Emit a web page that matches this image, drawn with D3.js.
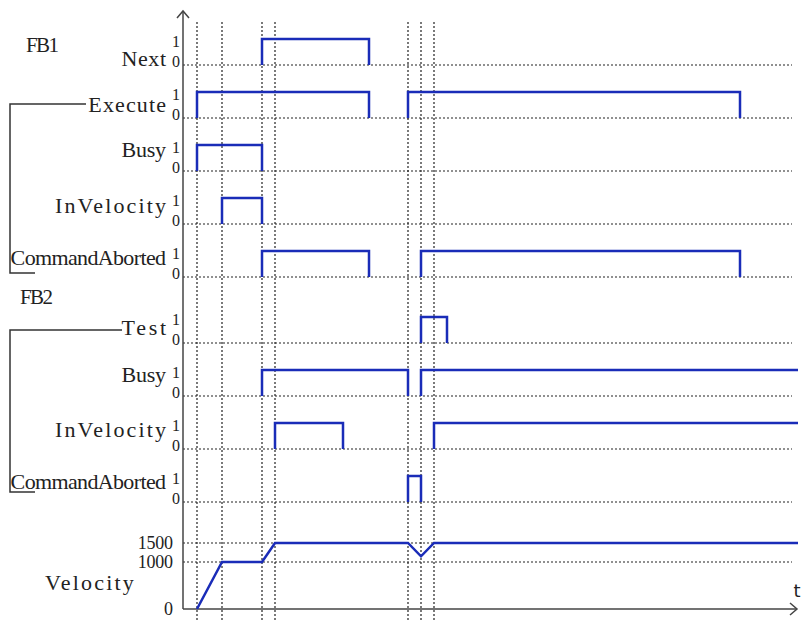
<!DOCTYPE html>
<html>
<head>
<meta charset="utf-8">
<script src="https://cdn.jsdelivr.net/npm/d3@7"></script>
<style>
  body { margin: 0; background: #fff; }
  svg { display: block; }
</style>
</head>
<body>
<div id="chart"></div>
<script>
// time unit = 1 px after the y axis
const markerTimes = [14, 39, 79, 92, 225, 238, 251];

const rowNames = ['Next', 'Execute', 'Busy', 'InVelocity', 'CommandAborted',
                  'Test', 'Busy', 'InVelocity', 'CommandAborted'];
// high intervals [rise, fall] per row
const rowPulses = [
  [[79, 186]],
  [[14, 186], [225, 557]],
  [[14, 79]],
  [[39, 79]],
  [[79, 186], [238, 557]],
  [[238, 264]],
  [[79, 225], [238, 615]],
  [[92, 160], [251, 615]],
  [[225, 238]]
];
const groupNames = ['FB1', 'FB2'];

const velTimes = [14, 39, 79, 92, 225, 238, 251, 615];
const velValues = [0, 1000, 1000, 1500, 1500, 1150, 1500, 1500];
const velTicks = [0, 1000, 1500];

const w = 803, h = 621;
const blue = '#1a2cb8';
const serif = '"Liberation Serif", "DejaVu Serif", serif';
// name label baseline offset from each row's 0 line
const nameShift = [1, -6, -14, -11, -12, -8, -14, -12, -13];

const svg = d3.select('#chart').append('svg')
  .attr('width', w).attr('height', h);

const x = d3.scaleLinear().domain([0, 614]).range([183, 797]);
// baseline (level 0) of each digital row
const rowY = i => 65 + i * 53 + (i >= 5 ? 13 : 0);
const lvl = d3.scaleLinear().domain([0, 1]).range([0, -26]);
const vy = d3.scaleLinear().domain([0, 1000, 1500]).range([609, 562, 543]);

// vertical dotted markers
svg.append('g').selectAll('line')
  .data(markerTimes).enter().append('line')
  .attr('x1', d => x(d)).attr('x2', d => x(d))
  .attr('y1', 22).attr('y2', h)
  .attr('stroke', '#222').attr('stroke-width', 1.2)
  .attr('stroke-dasharray', '2,2');

// horizontal dotted baselines
const hLines = rowNames.map((d, i) => rowY(i)).concat([vy(1000), vy(1500)]);
svg.append('g').selectAll('line')
  .data(hLines).enter().append('line')
  .attr('x1', x(0)).attr('x2', 792)
  .attr('y1', d => d).attr('y2', d => d)
  .attr('stroke', '#222').attr('stroke-width', 1.2)
  .attr('stroke-dasharray', '2,2');

// axes
const axisCol = '#444';
svg.append('line').attr('x1', x(0)).attr('x2', x(0)).attr('y1', vy(0)).attr('y2', 11)
  .attr('stroke', axisCol).attr('stroke-width', 1.5);
svg.append('path').attr('d', `M${x(0) - 6},${18} L${x(0)},${11} L${x(0) + 6},${18}`)
  .attr('fill', 'none').attr('stroke', axisCol).attr('stroke-width', 1.5);
svg.append('line').attr('x1', x(0)).attr('x2', 797).attr('y1', vy(0)).attr('y2', vy(0))
  .attr('stroke', axisCol).attr('stroke-width', 1.5);
svg.append('path').attr('d', `M790,${vy(0) - 6} L797,${vy(0)} L790,${vy(0) + 6}`)
  .attr('fill', 'none').attr('stroke', axisCol).attr('stroke-width', 1.5);
svg.append('text').attr('x', 797).attr('y', 597).attr('text-anchor', 'middle')
  .attr('font-family', '"DejaVu Sans", sans-serif').attr('font-size', 18)
  .attr('fill', '#222').text('t');

// digital signals
const line = d3.line().x(d => x(d[0])).y(d => d[1]);
rowPulses.forEach((pulses, i) => {
  const b = rowY(i);
  pulses.forEach(p => {
    const pts = [[p[0], b], [p[0], b + lvl(1)], [p[1], b + lvl(1)]];
    if (p[1] < 600) pts.push([p[1], b]);
    svg.append('path').attr('d', line(pts))
      .attr('fill', 'none').attr('stroke', blue).attr('stroke-width', 2.5);
  });
});

// velocity trace
svg.append('path')
  .attr('d', d3.line().x(d => x(d[0])).y(d => vy(d[1]))(velTimes.map((t, i) => [t, velValues[i]])))
  .attr('fill', 'none').attr('stroke', blue).attr('stroke-width', 2.5);

// labels
const txt = (tx, ty, s, size, anchor, len) => {
  const t = svg.append('text').attr('x', tx).attr('y', ty)
    .attr('font-family', serif).attr('font-size', size)
    .attr('fill', '#222').attr('text-anchor', anchor || 'start').text(s);
  if (len) t.attr('textLength', len).attr('lengthAdjust', 'spacing');
  return t;
};

rowNames.forEach((name, i) => {
  const b = rowY(i);
  txt(166, b + nameShift[i], name, 22, 'end', name.length * 11.1);
  txt(176, b - 18, '1', 16, 'middle');
  txt(176, b + 2, '0', 16, 'middle');
});

txt(26, 52, groupNames[0], 21, 'start', 33);
txt(20, 304, groupNames[1], 21, 'start', 33);
txt(45, 590, 'Velocity', 22, 'start', 8 * 11.1);

velTicks.forEach(v => {
  txt(173, vy(v) + 6, String(v), 18, 'end', String(v).length * 8.8);
});

// group brackets
const bracket = d3.line();
const br = (yTop, xTop, yBot) => svg.append('path')
  .attr('d', bracket([[xTop, yTop], [10, yTop], [10, yBot], [35, yBot]]))
  .attr('fill', 'none').attr('stroke', '#333').attr('stroke-width', 1.5);
br(rowY(1) - 14, 86, rowY(4) - 4);
br(rowY(5) - 13, 122, rowY(8) - 10);
</script>
</body>
</html>
